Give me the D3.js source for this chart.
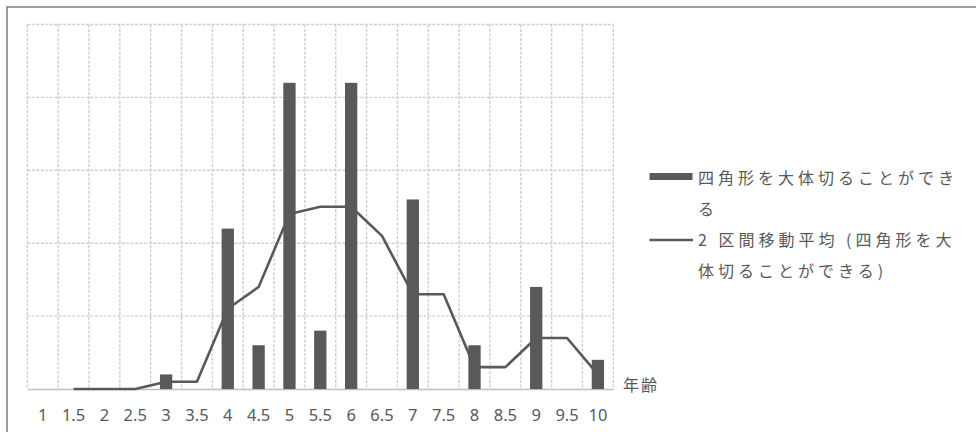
<!DOCTYPE html>
<html>
<head>
<meta charset="utf-8">
<script src="https://cdn.jsdelivr.net/npm/d3@7"></script>
<style>
  html, body { margin: 0; padding: 0; background: #fff; }
  svg { display: block; }
</style>
</head>
<body>
<svg id="chart" width="976" height="432"></svg>
<script>
// Age categories (years)
const categories = ["1","1.5","2","2.5","3","3.5","4","4.5","5","5.5","6","6.5","7","7.5","8","8.5","9","9.5","10"];
// Number of children who can roughly cut out a square, per age
const counts = [0,0,0,0,1,0,11,3,21,4,21,0,13,0,3,0,7,0,2];
// 2-period moving average of the counts (first point undefined)
const movingAvg = [null,0,0,0,0.5,0.5,5.5,7,12,12.5,12.5,10.5,6.5,6.5,1.5,1.5,3.5,3.5,1];
// Value gridlines
const yTicks = [0,5,10,15,20,25];

const barName = "四角形を大体切ることができる";
const lineName = "2 区間移動平均 (四角形を大体切ることができる)";

const svg = d3.select("#chart");
const W = 976, H = 432;
const plot = { left: 27.3, right: 613.3, top: 24.5, bottom: 389 };
const ink = "#595959";

svg.append("rect").attr("width", W).attr("height", H).attr("fill", "#fff");

// chart frame (only top and left edges fall inside the page)
svg.append("path")
  .attr("d", `M7,432 V7 H976`)
  .attr("fill", "none").attr("stroke", "#7f7f7f").attr("stroke-width", 1.5);

const x = d3.scaleBand().domain(categories).range([plot.left, plot.right]).padding(0);
const y = d3.scaleLinear().domain([0, 25]).range([plot.bottom, plot.top]);

const gridStyle = sel => sel
  .attr("stroke", "#cfcfcf").attr("stroke-width", 1.4).attr("stroke-dasharray", "3,1.5");

// horizontal gridlines
svg.append("g").selectAll("line").data(yTicks.filter(d => d > 0)).join("line")
  .attr("x1", plot.left).attr("x2", plot.right)
  .attr("y1", d => y(d)).attr("y2", d => y(d))
  .call(gridStyle);

// vertical gridlines at category boundaries
const bounds = categories.map(c => x(c)).concat([plot.right]);
svg.append("g").selectAll("line").data(bounds).join("line")
  .attr("x1", d => d).attr("x2", d => d)
  .attr("y1", plot.top).attr("y2", plot.bottom)
  .call(gridStyle);

// category axis
const xAxis = d3.axisBottom(x).tickSize(0).tickPadding(20);
const gx = svg.append("g").attr("transform", `translate(0,${plot.bottom})`).call(xAxis);
gx.select(".domain").attr("stroke", "#bfbfbf").attr("stroke-width", 1.5);
gx.selectAll("text")
  .attr("fill", ink)
  .style("font-family", "'Noto Sans', sans-serif")
  .style("font-size", "16.5px");

// bars
const barW = 12.3;
svg.append("g").selectAll("rect").data(counts.map((v, i) => ({ c: categories[i], v })).filter(d => d.v > 0)).join("rect")
  .attr("x", d => x(d.c) + x.bandwidth() / 2 - barW / 2)
  .attr("y", d => y(d.v))
  .attr("width", barW)
  .attr("height", d => y(0) - y(d.v))
  .attr("fill", ink);

// moving-average line
const line = d3.line()
  .defined(d => d.v !== null)
  .x(d => x(d.c) + x.bandwidth() / 2)
  .y(d => y(d.v));
svg.append("path")
  .datum(movingAvg.map((v, i) => ({ c: categories[i], v })))
  .attr("d", line)
  .attr("fill", "none")
  .attr("stroke", ink)
  .attr("stroke-width", 2.6)
  .attr("stroke-linejoin", "round");

// axis title
svg.append("text")
  .attr("x", 623).attr("y", 385).attr("dy", "0.35em")
  .attr("fill", ink)
  .style("font-family", "'Noto Sans CJK JP', sans-serif")
  .style("font-size", "16px")
  .style("letter-spacing", "2px")
  .text("年齢");

// legend
const lg = svg.append("g");
const jp = sel => sel
  .attr("fill", ink)
  .style("font-family", "'Noto Sans CJK JP', sans-serif")
  .style("font-size", "16px")
  .style("letter-spacing", "4px");

lg.append("rect").attr("x", 649.5).attr("y", 173).attr("width", 43).attr("height", 7).attr("fill", ink);
const t1 = lg.append("text").call(jp);
t1.append("tspan").attr("x", 698).attr("y", 178).attr("dy", "0.35em").text(barName.slice(0, 13));
t1.append("tspan").attr("x", 698).attr("y", 209).attr("dy", "0.35em").text(barName.slice(13));

lg.append("line").attr("x1", 649.5).attr("x2", 693).attr("y1", 240).attr("y2", 240)
  .attr("stroke", ink).attr("stroke-width", 2.6);
const t2 = lg.append("text").call(jp);
t2.append("tspan").attr("x", 698).attr("y", 240).attr("dy", "0.35em").text(lineName.slice(0, 15));
t2.append("tspan").attr("x", 698).attr("y", 271).attr("dy", "0.35em").text(lineName.slice(15));
</script>
</body>
</html>
